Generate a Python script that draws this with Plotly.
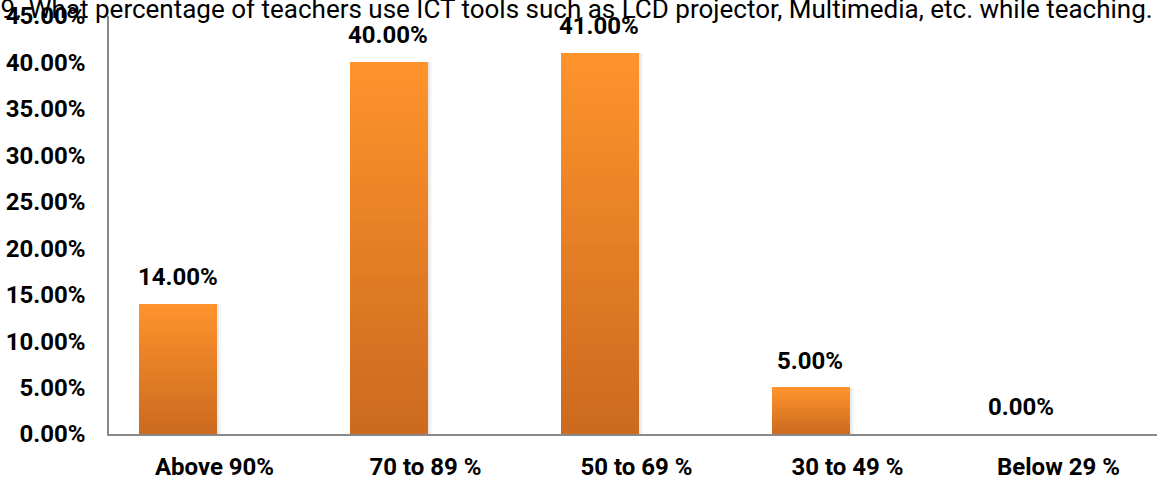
import plotly.graph_objects as go

# Daten aus dem Diagramm
categories = ['Above 90%', '70 to 89 %', '50 to 69 %', '30 to 49 %', 'Below 29 %']
values = [14.0, 40.0, 41.0, 5.0, 0.0]
title_text = ("19. What percentage of teachers use ICT tools such as LCD projector, "
              "Multimedia, etc. while teaching.")

TOP_RGB = (255, 148, 44)     # oben hell-orange
BOTTOM_RGB = (203, 105, 31)  # unten dunkler
N_SLICES = 40                # Verlauf in Scheiben

FONT = 'Roboto'

fig = go.Figure()

# leichter Schatten rechts neben den Säulen
for w, a in [(0.39, 0.035), (0.38, 0.05)]:
    fig.add_trace(go.Bar(
        x=categories, y=values,
        marker=dict(color=f'rgba(0,0,0,{a})', line=dict(width=0)),
        width=w, offset=-0.36,
        showlegend=False, hoverinfo='skip',
    ))

# Verlauf: jede Säule in Scheiben vom Boden bis zur Spitze
for k in range(N_SLICES):
    t = (k + 0.5) / N_SLICES
    rgb = tuple(int(round(b + (a - b) * t)) for a, b in zip(TOP_RGB, BOTTOM_RGB))
    fig.add_trace(go.Bar(
        x=categories,
        y=[v / N_SLICES for v in values],
        base=[v * k / N_SLICES for v in values],
        marker=dict(color='rgb(%d,%d,%d)' % rgb, line=dict(width=0)),
        width=0.37,
        offset=-0.36,
        showlegend=False,
        hoverinfo='skip',
    ))

# Datenbeschriftungen über den Säulen
for cat, v in zip(categories, values):
    fig.add_annotation(
        x=cat, y=v, text=f"<b>{v:.2f}%</b>",
        showarrow=False, xshift=-37, yshift=27, yanchor='middle',
        font=dict(family=FONT, size=24, color='black'),
    )

# Titel (links abgeschnitten wie im Original)
fig.add_annotation(
    x=1.0, y=1.0, xref='paper', yref='paper',
    xanchor='right', yanchor='middle', yshift=7, xshift=-2,
    text=title_text, showarrow=False,
    font=dict(family=FONT, size=26, color='black'),
)

fig.update_layout(
    width=1157, height=482,
    barmode='overlay',
    bargap=0,
    plot_bgcolor='white',
    paper_bgcolor='white',
    margin=dict(l=109, r=0, t=16, b=48, autoexpand=False),
    xaxis=dict(
        range=[-0.5, 4.467],
        automargin=False,
        showline=True, linecolor='#898989', linewidth=1.5,
        showgrid=False, zeroline=False, ticks='',
        ticklabelstandoff=10,
        tickfont=dict(family=FONT, size=24, color='black', weight='bold'),
    ),
    yaxis=dict(
        range=[0, 45],
        automargin=False,
        tickmode='linear', tick0=0, dtick=5,
        ticksuffix='%', tickformat='.2f',
        showline=True, linecolor='#898989', linewidth=1.5,
        showgrid=False, zeroline=False, ticks='',
        ticklabelstandoff=17,
        tickfont=dict(family=FONT, size=24, color='black', weight='bold'),
    ),
)

# Body-Rand entfernen, damit die Grafik bündig im Fenster sitzt
fig.write_html("out.html", config={'displayModeBar': False},
               post_script="document.body.style.margin='0';")
